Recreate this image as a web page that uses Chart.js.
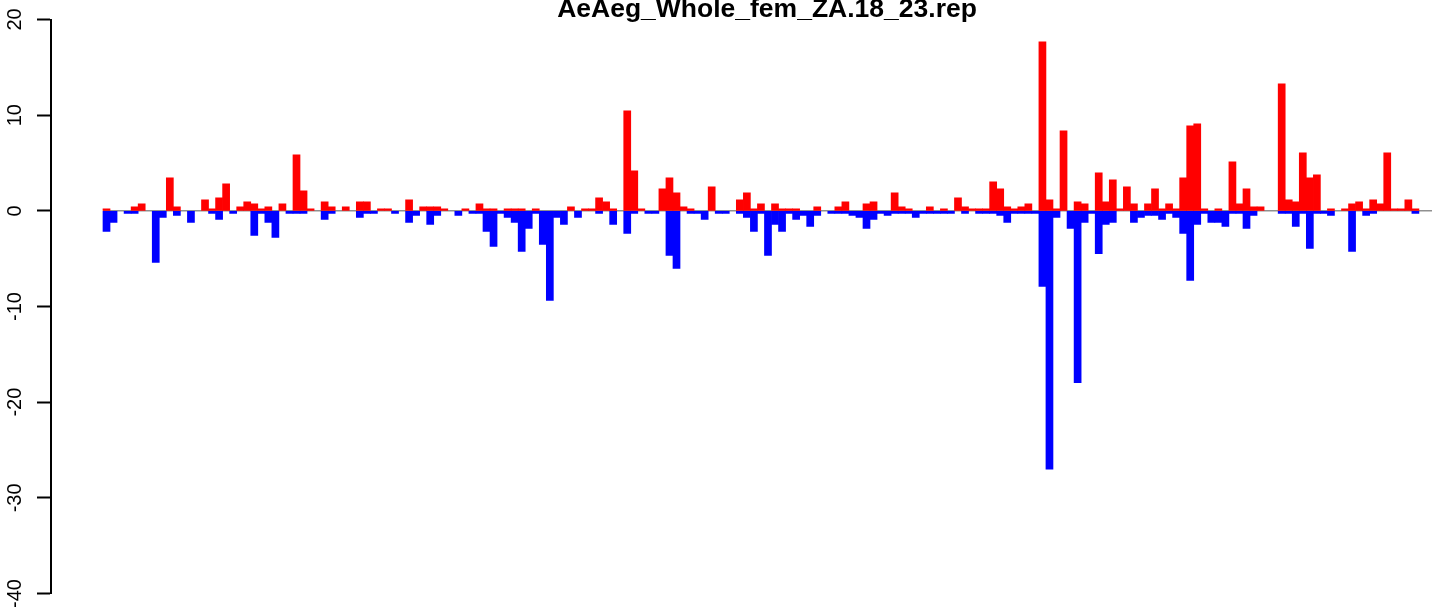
<!DOCTYPE html>
<html>
<head>
<meta charset="utf-8">
<script src="https://cdn.jsdelivr.net/npm/chart.js@4"></script>
<style>
  html, body { margin: 0; padding: 0; background: #fff; }
  canvas { display: block; }
</style>
</head>
<body>
<canvas id="repChart" width="1444" height="613"></canvas>
<script>
const chartTitle = 'AeAeg_Whole_fem_ZA.18_23.rep';

// red bars (above zero), one per window, left to right
const upValues = [
  0.2, 0, 0, 0, 0.42, 0.73, 0, 0, 0, 3.45,
  0.42, 0, 0, 0, 1.15, 0.2, 1.36, 2.82, 0, 0.42,
  0.94, 0.73, 0.2, 0.42, 0, 0.73, 0, 5.85, 2.09, 0.2,
  0, 0.94, 0.42, 0, 0.42, 0, 0.94, 0.94, 0, 0.2,
  0.2, 0, 0, 1.15, 0, 0.42, 0.42, 0.42, 0.2, 0,
  0, 0.2, 0, 0.73, 0.2, 0.2, 0, 0.2, 0.2, 0.2,
  0, 0.2, 0, 0, 0, 0, 0.42, 0, 0.2, 0.2,
  1.36, 0.94, 0.2, 0, 10.45, 4.18, 0.2, 0, 0, 2.3,
  3.45, 1.88, 0.42, 0.2, 0, 0, 2.51, 0, 0, 0,
  1.15, 1.88, 0.2, 0.73, 0, 0.73, 0.2, 0.2, 0.2, 0,
  0, 0.42, 0, 0, 0.42, 0.94, 0, 0, 0.73, 0.94,
  0, 0, 1.88, 0.42, 0.2, 0, 0, 0.42, 0, 0.2,
  0, 1.36, 0.42, 0.2, 0.2, 0.2, 3.03, 2.3, 0.42, 0.2,
  0.42, 0.73, 0, 17.66, 1.15, 0.2, 8.36, 0, 0.94, 0.73,
  0, 3.97, 0.94, 3.24, 0.2, 2.51, 0.73, 0, 0.73, 2.3,
  0.2, 0.73, 0.2, 3.45, 8.88, 9.09, 0.2, 0, 0.2, 0,
  5.12, 0.73, 2.3, 0.42, 0.42, 0, 0, 13.27, 1.15, 0.94,
  6.06, 3.45, 3.76, 0, 0.2, 0, 0.2, 0.73, 0.94, 0.2,
  1.15, 0.73, 6.06, 0.2, 0.2, 1.15, 0.2
];

// blue bars (below zero), same windows
const downValues = [
  -2.16, -1.22, 0, -0.28, -0.28, 0, 0, -5.4, -0.7, 0,
  -0.49, 0, -1.22, 0, 0, -0.28, -0.9, 0, -0.28, 0,
  0, -2.58, -0.28, -1.22, -2.79, 0, -0.28, -0.28, -0.28, 0,
  0, -0.9, -0.28, 0, 0, 0, -0.7, -0.28, -0.28, 0,
  0, -0.28, 0, -1.22, -0.49, 0, -1.43, -0.49, 0, 0,
  -0.49, 0, -0.28, -0.28, -2.16, -3.73, -0.28, -0.7, -1.22, -4.25,
  -1.85, -0.28, -3.52, -9.37, -0.7, -1.43, 0, -0.7, 0, 0,
  -0.28, 0, -1.43, 0, -2.37, -0.28, 0, -0.28, -0.28, 0,
  -4.67, -6.03, 0, -0.28, -0.28, -0.9, 0, -0.28, -0.28, 0,
  -0.28, -0.7, -2.16, -0.28, -4.67, -1.43, -2.16, -0.28, -0.9, -0.49,
  -1.64, -0.49, 0, -0.28, -0.28, -0.28, -0.49, -0.7, -1.85, -0.9,
  -0.28, -0.49, -0.28, -0.28, -0.28, -0.7, -0.28, -0.28, -0.28, -0.28,
  -0.28, 0, -0.28, 0, -0.28, -0.28, -0.28, -0.49, -1.22, -0.28,
  -0.28, -0.28, -0.28, -7.9, -27.0, -0.7, 0, -1.85, -17.95, -1.22,
  -0.28, -4.47, -1.43, -1.22, 0, 0, -1.22, -0.7, -0.49, -0.49,
  -0.9, -0.28, -0.7, -2.37, -7.28, -1.43, -0.28, -1.22, -1.22, -1.64,
  -0.28, -0.28, -1.85, -0.49, 0, 0, 0, -0.28, -0.28, -1.64,
  -0.28, -3.94, -0.28, -0.28, -0.49, 0, 0, -4.25, 0, -0.49,
  -0.28, 0, 0, 0, 0, 0, -0.28
];

const yTicks = [-40, -30, -20, -10, 0, 10, 20];

// window number for every bar
const windows = upValues.map((v, i) => i + 1);

function toPoints(values) {
  return values.map((v, i) => ({ x: windows[i], y: v === 0 ? null : v }));
}

Chart.defaults.font.family = '"Liberation Sans", Arial, Helvetica, sans-serif';
Chart.defaults.color = '#000';

// grey line at y = 0, under the bars
const zeroLine = {
  id: 'zeroLine',
  beforeDatasetsDraw(chart) {
    const { ctx, scales, chartArea } = chart;
    const y = scales.y.getPixelForValue(0);
    const x0 = scales.x.getPixelForValue(windows[0] - 0.5);
    ctx.save();
    ctx.strokeStyle = '#909090';
    ctx.lineWidth = 1.5;
    ctx.beginPath();
    ctx.moveTo(x0, y);
    ctx.lineTo(chartArea.right, y);
    ctx.stroke();
    ctx.restore();
  }
};

// R style title, sitting at the very top edge
const topTitle = {
  id: 'topTitle',
  afterDraw(chart) {
    const ctx = chart.ctx;
    ctx.save();
    ctx.font = 'bold 26.5px "Liberation Sans", Arial, sans-serif';
    ctx.fillStyle = '#000';
    ctx.textAlign = 'center';
    ctx.textBaseline = 'alphabetic';
    ctx.fillText(chartTitle, 767, 17);
    ctx.restore();
  }
};

new Chart(document.getElementById('repChart').getContext('2d'), {
  type: 'bar',
  data: {
    datasets: [{
      data: toPoints(upValues),
      backgroundColor: '#ff0000',
      borderWidth: 0,
      grouped: false,
      categoryPercentage: 1,
      barPercentage: 1
    }, {
      data: toPoints(downValues),
      backgroundColor: '#0000ff',
      borderWidth: 0,
      grouped: false,
      categoryPercentage: 1,
      barPercentage: 1
    }]
  },
  options: {
    responsive: false,
    animation: false,
    layout: { padding: { top: 19, bottom: 19, left: 0, right: 12 } },
    plugins: {
      legend: { display: false },
      tooltip: { enabled: false },
      title: { display: false }
    },
    scales: {
      x: {
        type: 'linear',
        offset: false,
        bounds: 'data',
        min: -6.887,
        max: 189.36,
        display: false
      },
      y: {
        min: -40,
        max: 20,
        afterFit(scale) { scale.width = 51; },
        afterBuildTicks(scale) { scale.ticks = yTicks.map(v => ({ value: v })); },
        border: { display: true, color: '#000', width: 2 },
        grid: {
          drawOnChartArea: false,
          drawTicks: true,
          tickLength: 14,
          tickWidth: 2,
          tickColor: '#000'
        },
        ticks: {
          minRotation: 90,
          maxRotation: 90,
          crossAlign: 'center',
          padding: 7.5,
          color: '#000',
          font: { size: 20 }
        }
      }
    }
  },
  plugins: [zeroLine, topTitle]
});
</script>
</body>
</html>
